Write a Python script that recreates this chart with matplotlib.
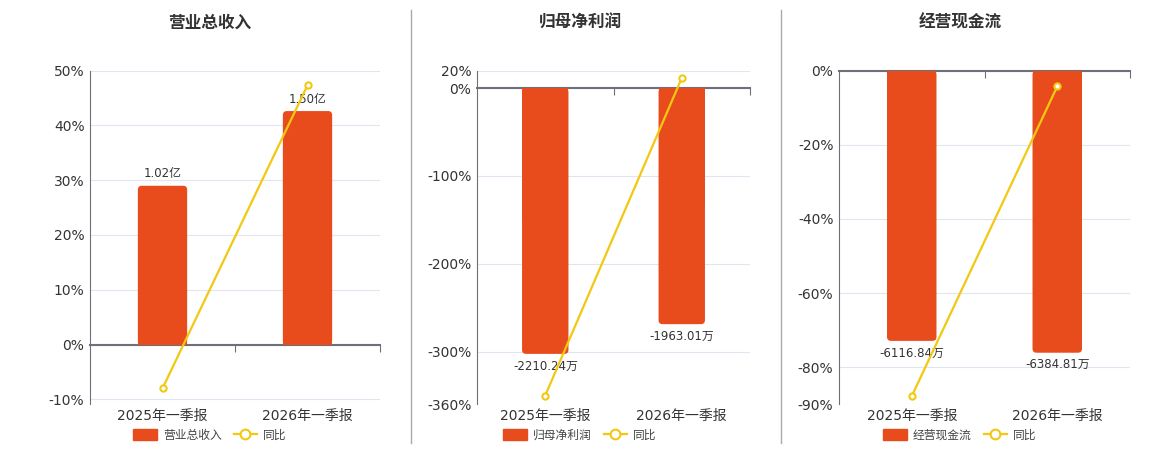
import numpy as np
import matplotlib
matplotlib.use("Agg")
import matplotlib.pyplot as plt
from matplotlib.patches import Patch, FancyBboxPatch, Rectangle
from matplotlib.lines import Line2D

plt.rcParams['font.family'] = ['DejaVu Sans', 'Noto Sans CJK SC']

# ---- data ----
periods = ['2025年一季报', '2026年一季报']
titles = ['营业总收入', '归母净利润', '经营现金流']

revenue = [1.02, 1.50]            # 亿
revenue_labels = ['1.02亿', '1.50亿']
revenue_yoy = [-8.0, 47.3]        # %

profit = [-2210.24, -1963.01]     # 万
profit_labels = ['-2210.24万', '-1963.01万']
profit_yoy = [-350.0, 11.4]

cashflow = [-6116.84, -6384.81]   # 万
cashflow_labels = ['-6116.84万', '-6384.81万']
cashflow_yoy = [-87.8, -4.3]

# ---- style ----
BAR = '#E84C1C'
LINE = '#F2C811'
TXT = '#333333'
AX = '#6E7079'
GRID = '#E0E6F1'

fig = plt.figure(figsize=(11.6, 4.5), dpi=100)
W, H = 1160, 450

panels = [
    # bars, labels, yoy, ylim, yticks, scale (% per unit), left, right, center
    (revenue, revenue_labels, revenue_yoy, (-10.9, 50), [-10, 0, 10, 20, 30, 40, 50], 42.6 / 1.50, 90, 380, 210),
    (profit, profit_labels, profit_yoy, (-360, 20), [-360, -300, -200, -100, 0, 20], 302.6 / 2210.24, 477, 750, 580),
    (cashflow, cashflow_labels, cashflow_yoy, (-90, 0), [-90, -80, -60, -40, -20, 0], 72.9 / 6116.84, 839, 1130, 960),
]

top_px, bot_px = 70.5, 404.3
x = np.arange(len(periods))

for i, (bars, blabels, yoy, ylim, yticks, k, lpx, rpx, cpx) in enumerate(panels):
    ax = fig.add_axes([lpx / W, 1 - bot_px / H, (rpx - lpx) / W, (bot_px - top_px) / H])
    ax.set_xlim(-0.5, len(periods) - 0.5)
    ax.set_ylim(*ylim)
    ax.set_yticks(yticks)
    ax.set_yticklabels([f'{t}%' for t in yticks], fontsize=10, color=TXT)
    ax.grid(axis='y', color=GRID, lw=0.8)
    ax.set_axisbelow(True)
    for s in ['top', 'right']:
        ax.spines[s].set_visible(False)
    ax.spines['left'].set_color(AX)
    ax.spines['bottom'].set_position(('data', 0))
    ax.spines['bottom'].set_color(AX)
    ax.spines['bottom'].set_linewidth(1.5)
    ax.tick_params(axis='y', length=0, pad=4)
    ax.set_xticks([0.5, 1.5])
    ax.set_xticklabels(['', ''])
    ax.tick_params(axis='x', length=5, color=AX, direction='out')
    for j, p in enumerate(periods):
        ax.text(j, -0.015, p, transform=ax.get_xaxis_transform(), ha='center', va='top',
                fontsize=10, color=TXT)

    # bars on hidden twin axis, zero aligned with the % axis
    bx = ax.twinx()
    blo, bhi = ylim[0] / k, ylim[1] / k
    bx.set_ylim(blo, bhi)
    bx.axis('off')
    cont = bx.bar(x, bars, width=0.34, color=BAR, zorder=2)

    # round the outer corners of each bar
    px_x = (rpx - lpx) / len(periods)
    px_y = (bot_px - top_px) / (bhi - blo)
    r = 4 / px_x
    for rect in cont:
        rect.set_visible(False)
        x0, w = rect.get_x(), rect.get_width()
        y0, h = rect.get_y(), rect.get_height()
        lo, hi = min(y0, y0 + h), max(y0, y0 + h)
        bx.add_patch(FancyBboxPatch((x0, lo), w, hi - lo,
                                    boxstyle=f'round,pad=0,rounding_size={r}',
                                    mutation_aspect=px_x / px_y, fc=BAR, ec='none', zorder=2))
        half = (hi - lo) / 2
        sq_y = lo + half if lo >= 0 and hi > 0 and lo == 0 else lo
        if lo == 0 or abs(lo) < 1e-12:
            bx.add_patch(Rectangle((x0, 0), w, half, fc=BAR, ec='none', zorder=2))
        else:
            bx.add_patch(Rectangle((x0, hi - half), w, half, fc=BAR, ec='none', zorder=2))

    for j, (v, lab) in enumerate(zip(bars, blabels)):
        off = 4 if v > 0 else -4
        bx.annotate(lab, (j, v), xytext=(0, off), textcoords='offset points',
                    ha='center', va='bottom' if v > 0 else 'top', fontsize=8.5, color=TXT)

    # yoy line on top
    lx = ax.twinx()
    lx.set_ylim(*ylim)
    lx.axis('off')
    lx.plot(x, yoy, color=LINE, lw=1.6, marker='o', ms=4.5, mfc='white', mec=LINE, mew=1.5, zorder=3)

    fig.text(cpx / W, 1 - 23 / H, titles[i], ha='center', va='center', fontsize=12,
             fontweight='bold', color=TXT)

    handles = [Patch(facecolor=BAR, edgecolor=BAR),
               Line2D([], [], color=LINE, lw=1.6, marker='o', ms=7, mfc='white', mec=LINE, mew=1.5)]
    fig.legend(handles, [titles[i], '同比'], loc='center', bbox_to_anchor=(cpx / W, 1 - 435 / H),
               ncol=2, frameon=False, fontsize=8.5, labelcolor='#444444', handlelength=2.0,
               handleheight=1.1, columnspacing=1.0, handletextpad=0.5)

# separators between panels
for sx in [410.7, 780.7]:
    fig.add_artist(Line2D([sx / W, sx / W], [1 - 10 / H, 1 - 443 / H], color='#AAAAAA', lw=1))

fig.savefig('out.png', dpi=100)
